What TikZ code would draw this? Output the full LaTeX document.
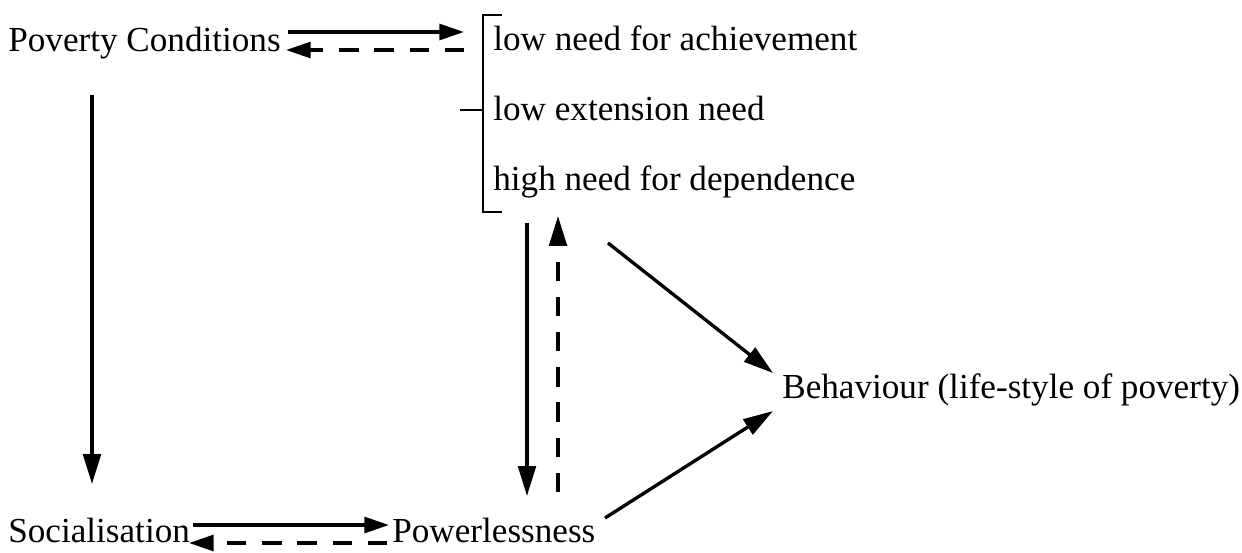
\documentclass[tikz,border=0pt]{standalone}
\usepackage{fontspec}
\setmainfont{Liberation Serif}
\usetikzlibrary{arrows.meta}
\begin{document}
\begin{tikzpicture}[x=0.02cm,y=-0.02cm,
  lbl/.style={anchor=base west,inner sep=0pt,font=\fontsize{20}{24}\selectfont},
  conn/.style={line width=1.9pt},
  big/.style={-{Triangle[length=17pt,width=10pt]}},
  small/.style={-{Triangle[length=14pt,width=9pt]}},
  dsh/.style={dash pattern=on 11pt off 9pt}]
\useasboundingbox (0,0) rectangle (1242,552);
% texts
\node[lbl] (pc) at (8,51) {Poverty Conditions};
\node[lbl] (n1) at (493,50) {low need for achievement};
\node[lbl] (n2) at (493,120) {low extension need};
\node[lbl] (n3) at (493,190) {high need for dependence};
\node[lbl] (soc) at (8,542) {Socialisation};
\node[lbl] (pow) at (392,542) {Powerlessness};
\node[lbl] (beh) at (782,398) {Behaviour (life-style of poverty)};
% connector end points
\coordinate (pcR1) at (288,32);
\coordinate (brL1) at (464,32);
\coordinate (brL2) at (464,50);
\coordinate (pcR2) at (286,50);
\coordinate (pcB) at (92,95);
\coordinate (socT) at (92,484);
\coordinate (socR1) at (193,525);
\coordinate (powL1) at (389,525);
\coordinate (powL2) at (387,543);
\coordinate (socR2) at (189,543);
\coordinate (brB1) at (527,223);
\coordinate (powT1) at (527,496);
\coordinate (powT2) at (558,492);
\coordinate (brB2) at (558,216);
\coordinate (brB3) at (608,243);
\coordinate (behL1) at (773,373);
\coordinate (powR) at (605,518);
\coordinate (behL2) at (773,411);
% bracket
\coordinate (bt) at (483,15);
\coordinate (bb) at (483,212);
\coordinate (bm) at (483,110);
\coordinate (bmL) at (460,110);
\draw[line width=1.5pt] (502,15) -- (bt) -- (bb) -- (502,212);
\draw[line width=1.5pt] (bmL) -- (bm);
% connectors
\draw[conn,small] (pcR1) -- (brL1);
\draw[conn,small,dsh] (brL2) -- (pcR2);
\draw[conn,big] (pcB) -- (socT);
\draw[conn,small] (socR1) -- (powL1);
\draw[conn,small,dsh] (powL2) -- (socR2);
\draw[conn,big] (brB1) -- (powT1);
\draw[conn,big,dsh] (powT2) -- (brB2);
\draw[conn,big] (brB3) -- (behL1);
\draw[conn,big] (powR) -- (behL2);
\end{tikzpicture}
\end{document}
